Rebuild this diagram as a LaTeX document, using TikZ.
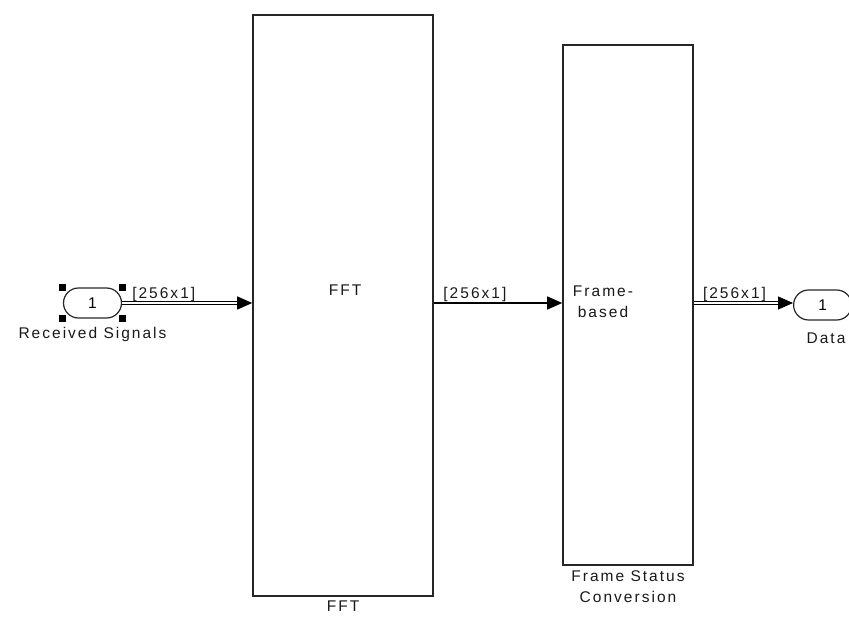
\documentclass[tikz,border=0pt]{standalone}
\usepackage{fontspec}
\setmainfont{Liberation Sans}
\newfontfamily\blkfont[LetterSpace=13]{Liberation Sans}
\usetikzlibrary{arrows.meta, shapes.misc, positioning}

\tikzset{
  blk/.style={rectangle,draw=black!85,line width=1.6pt,fill=white},
  port/.style={rounded rectangle,draw=black!85,line width=1.2pt,
               minimum width=58pt,minimum height=30pt,inner sep=0pt,
               font=\blkfont\fontsize{15.5}{17}\selectfont},
  handle/.style={rectangle,fill=black,minimum size=7pt,inner sep=0pt},
  lbl/.style={font=\blkfont\fontsize{15.5}{21}\selectfont,align=center,
              text=black!90},
  sig/.style={line width=1.3pt,-{Triangle[length=15pt,width=13pt]}},
  vec/.style={double,double distance=1.6pt,line width=1pt,
              -{Triangle[length=15pt,width=13pt]}}
}

\begin{document}
\begin{tikzpicture}[x=1pt,y=-1pt]
  \useasboundingbox (0,0) rectangle (849,620);
  \clip (0,0) rectangle (849,620);

  % blocks
  \node[blk,minimum width=180pt,minimum height=581pt] (fft) at (343,305.5) {};
  \node[lbl] at (345,290) {FFT};
  \node[lbl,below=1pt of fft] (fftname) {FFT};

  \node[blk,minimum width=130pt,minimum height=520pt] (frame) at (628,305) {};
  \node[lbl] at (603,302) {Frame-\\based};
  \node[lbl,below=1pt of frame] (framename) {Frame Status\\Conversion};

  % ports
  \node[port] (in1) at (92.5,303) {1};
  \node[lbl,below=5pt of in1] (in1name) {Received Signals};
  \foreach \v in {north,south}
    \foreach \h in {west,east}
      \node[handle] at (in1.\h |- in1.\v) {};

  \node[port,anchor=west] (out1) at (793,305) {1\hspace{30pt}};
  \node[lbl] (out1name) at (826,338) {Data};

  % signals
  \draw[vec] (in1.east) -- (fft.west |- in1.east)
        node[pos=0.32,above=-3pt,lbl] {[256x1]};
  \draw[sig] (fft.east |- in1.east) -- (frame.west |- in1.east)
        node[pos=0.32,above=-3pt,lbl] {[256x1]};
  \draw[vec] (frame.east |- in1.east) -- (out1.west |- in1.east)
        node[pos=0.41,above=-3pt,lbl] {[256x1]};
\end{tikzpicture}
\end{document}
